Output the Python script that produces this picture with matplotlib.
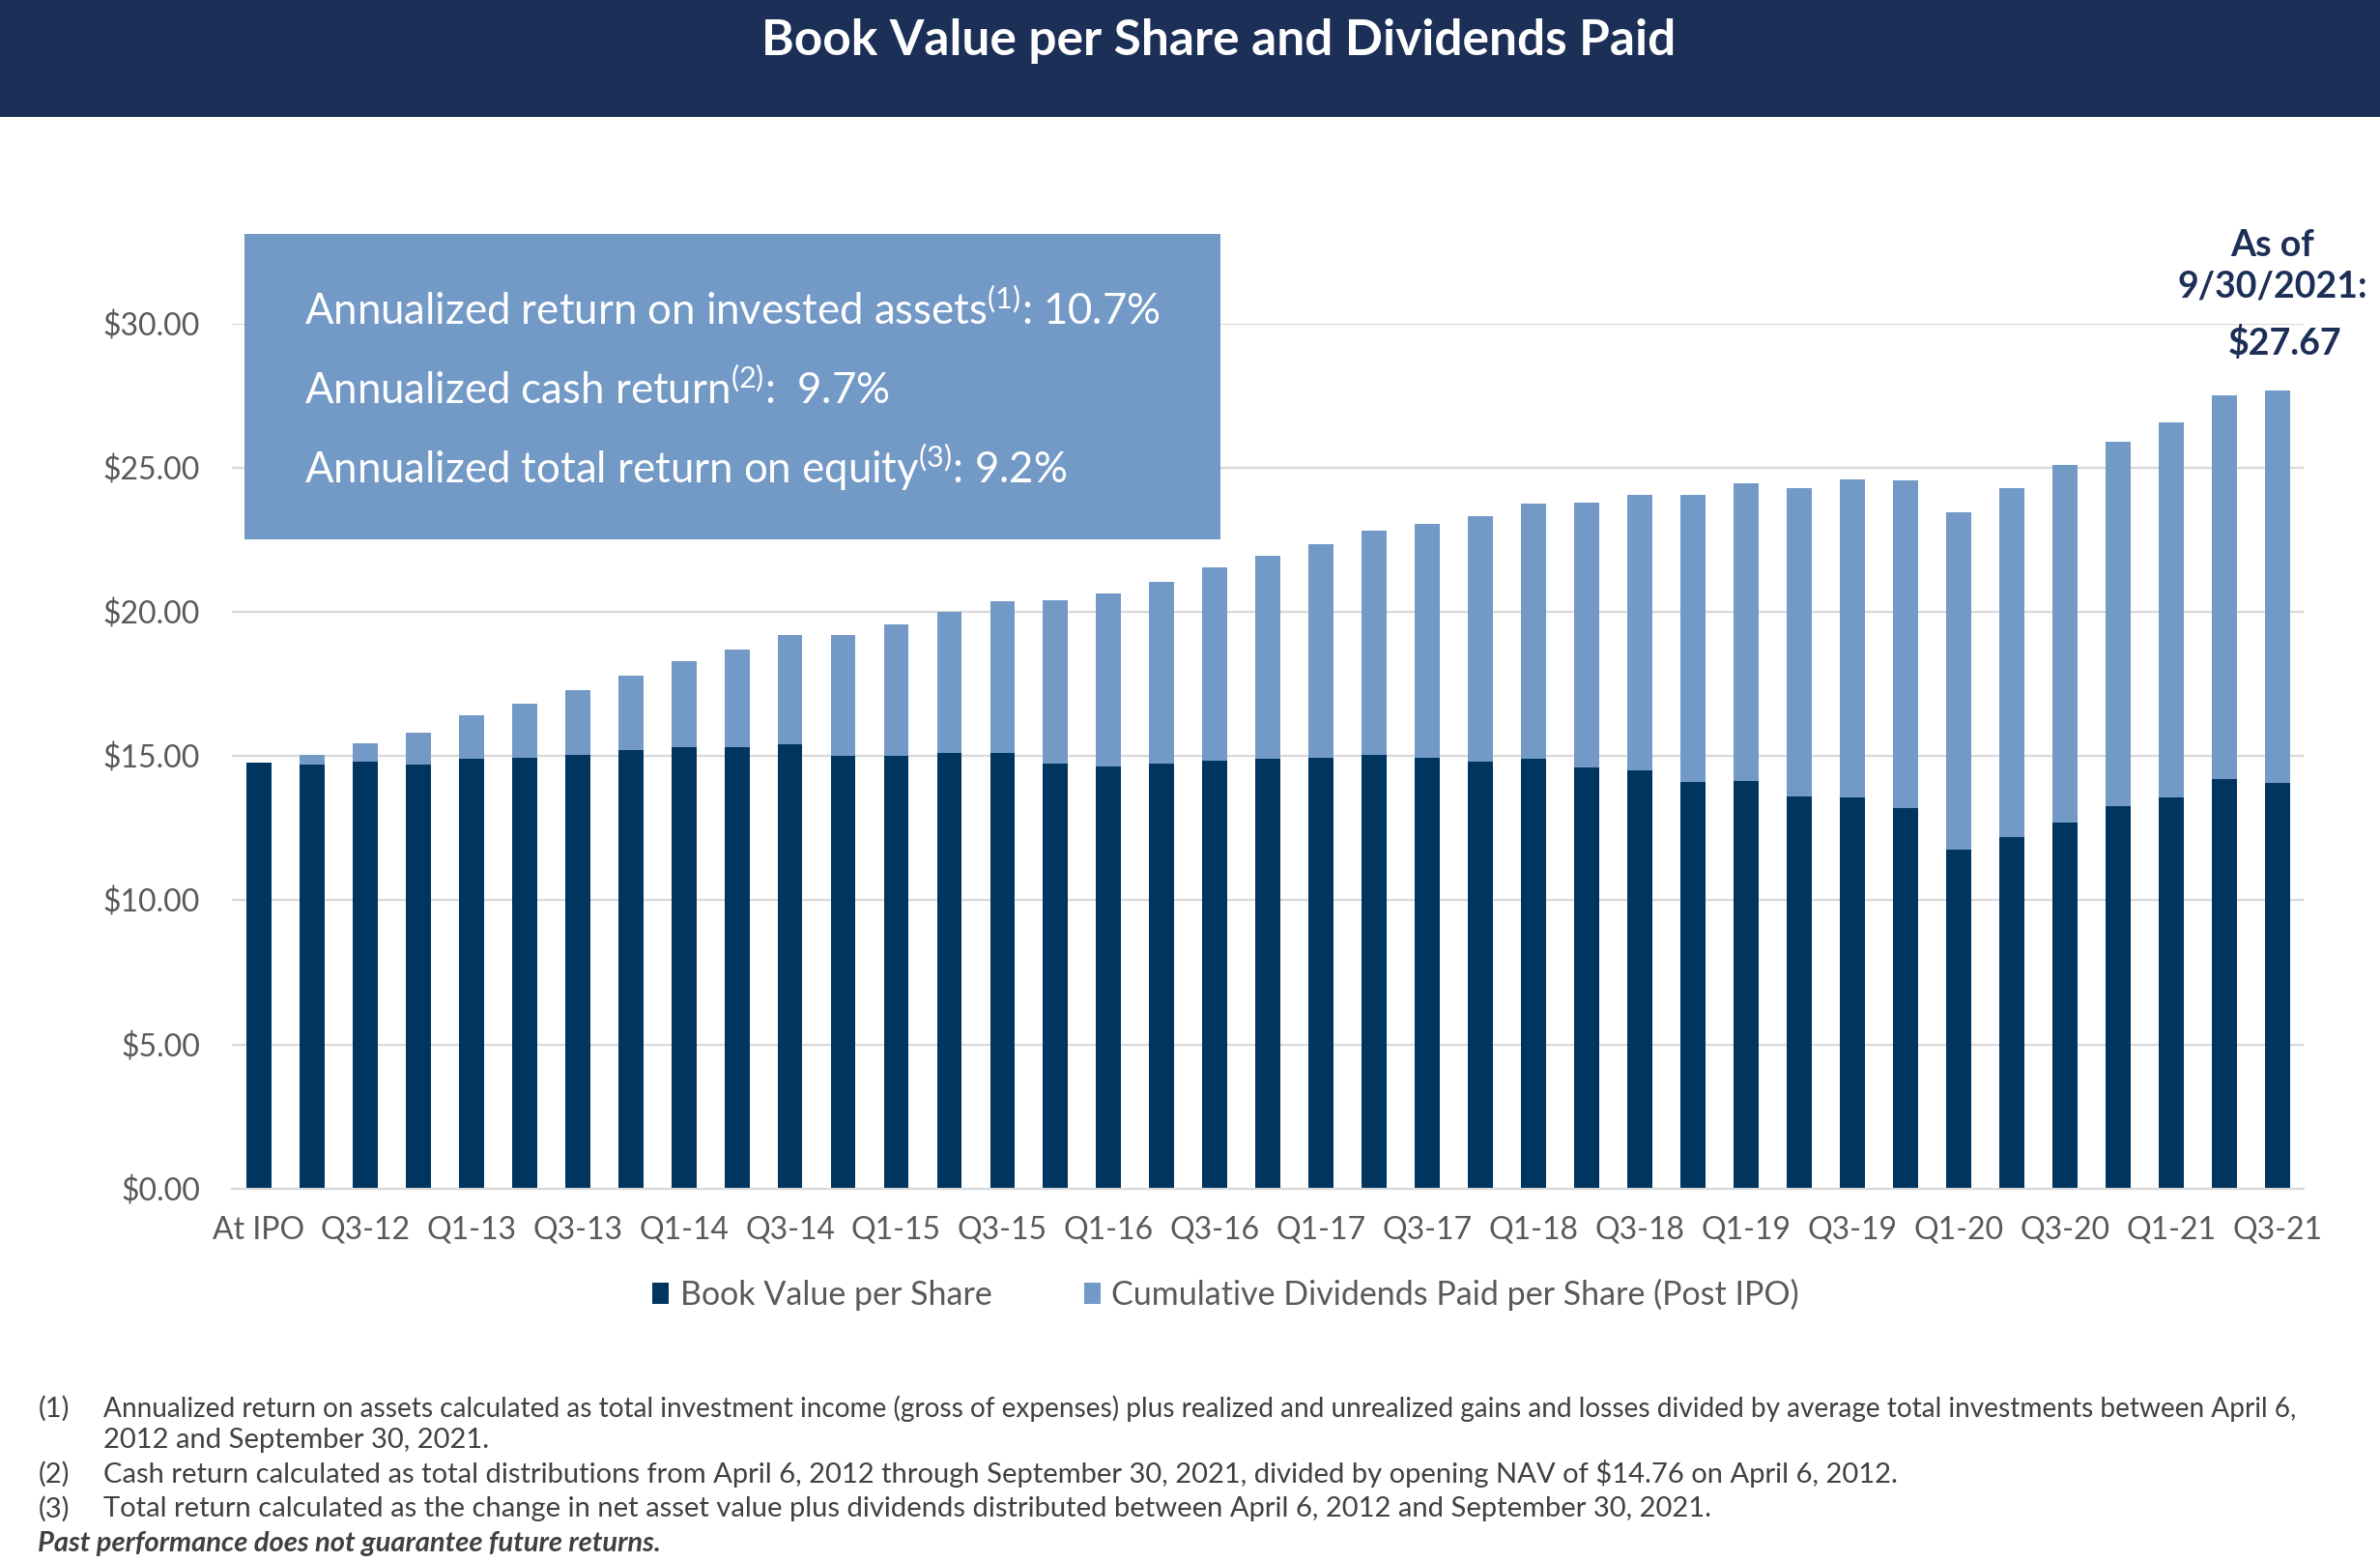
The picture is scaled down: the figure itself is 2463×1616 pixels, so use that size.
import matplotlib
matplotlib.use("Agg")
import matplotlib.pyplot as plt
from matplotlib.patches import Rectangle
import numpy as np

plt.rcParams['font.family'] = ['Lato', 'DejaVu Sans']
plt.rcParams['mathtext.fontset'] = 'custom'
plt.rcParams['mathtext.rm'] = 'Lato'
plt.rcParams['mathtext.it'] = 'Lato:italic'
plt.rcParams['mathtext.bf'] = 'Lato:bold'

# quarters, At IPO then Q2-12 .. Q3-21
quarters = ["At IPO"]
for yr in range(12, 22):
    for q in range(1, 5):
        if yr == 12 and q == 1:
            continue
        if yr == 21 and q == 4:
            continue
        quarters.append("Q%d-%d" % (q, yr))

book_value = [14.76, 14.70, 14.80, 14.70, 14.90, 14.95, 15.05, 15.20, 15.30, 15.30,
              15.40, 15.00, 15.00, 15.10, 15.10, 14.75, 14.65, 14.75, 14.85, 14.90,
              14.95, 15.05, 14.95, 14.80, 14.90, 14.60, 14.50, 14.10, 14.15, 13.60,
              13.55, 13.20, 11.75, 12.20, 12.70, 13.25, 13.55, 14.20, 14.08]
total_value = [14.76, 15.05, 15.45, 15.80, 16.40, 16.80, 17.30, 17.80, 18.30, 18.70,
               19.20, 19.20, 19.55, 20.00, 20.35, 20.40, 20.65, 21.05, 21.55, 21.95,
               22.35, 22.80, 23.05, 23.30, 23.75, 23.80, 24.05, 24.05, 24.45, 24.30,
               24.60, 24.55, 23.45, 24.30, 25.10, 25.90, 26.55, 27.50, 27.67]
dividends = [t - b for t, b in zip(total_value, book_value)]

dark = "#00355f"
light = "#7399c6"
navy = "#1c2f57"
gray = "#595959"

fig = plt.figure(figsize=(24.63, 16.16), dpi=100)

# title banner
fig.add_artist(Rectangle((0, 1 - 121 / 1616), 1, 121 / 1616, transform=fig.transFigure,
                         facecolor=navy, edgecolor="none", zorder=1))
fig.text(0.512, 0.974, "Book Value per Share and Dividends Paid", color="white",
         fontsize=37, fontweight="bold", ha="center", va="center", zorder=3)

ax = fig.add_axes([0.0976, 0.239, 0.8704, 0.554])
x = np.arange(len(quarters))
ax.bar(x, book_value, width=0.47, color=dark, label="Book Value per Share", zorder=2)
ax.bar(x, dividends, width=0.47, bottom=book_value, color=light,
       label="Cumulative Dividends Paid per Share (Post IPO)", zorder=2)

ax.set_xlim(-0.5, len(quarters) - 0.5)
ax.set_ylim(0, 30)
ax.set_yticks(np.arange(0, 31, 5))
ax.set_yticklabels(["$%.2f" % v for v in np.arange(0, 31, 5)])
ax.set_xticks(x[::2])
ax.set_xticklabels(quarters[::2])
ax.tick_params(axis="both", length=0, labelsize=23, labelcolor=gray)
ax.tick_params(axis="y", pad=24)
ax.tick_params(axis="x", pad=20)
ax.grid(axis="y", color="#d9d9d9", lw=1.6, zorder=0)
for s in ["top", "right", "left"]:
    ax.spines[s].set_visible(False)
ax.spines["bottom"].set_color("#d9d9d9")
ax.spines["bottom"].set_linewidth(1.6)

# stats box
fig.add_artist(Rectangle((0.1027, 0.655), 0.410, 0.1953, transform=fig.transFigure,
                         facecolor=light, edgecolor="none", zorder=1))
box_lines = [r"Annualized return on invested assets$^{(1)}$: 10.7%",
             r"Annualized cash return$^{(2)}$:  9.7%",
             r"Annualized total return on equity$^{(3)}$: 9.2%"]
for txt, yy in zip(box_lines, [0.8008, 0.7502, 0.7007]):
    fig.text(0.128, yy, txt, color="white", fontsize=31.5, ha="left", va="center", zorder=3)

# as-of annotation
fig.text(0.9547, 0.8426, "As of", color=navy, fontsize=27, fontweight="bold",
         ha="center", va="center")
fig.text(0.9547, 0.8163, "9/30/2021:", color=navy, fontsize=27, fontweight="bold",
         ha="center", va="center")
fig.text(0.96, 0.7804, "$27.67", color=navy, fontsize=27, fontweight="bold",
         ha="center", va="center")

fig.legend(loc="center", bbox_to_anchor=(0.515, 0.171), ncol=2, frameon=False,
           fontsize=24.5, labelcolor=gray, handlelength=0.5, handleheight=0.6,
           handletextpad=0.33, columnspacing=2.8)

# footnotes
notes = [("(1)", "Annualized return on assets calculated as total investment income (gross of expenses) plus realized and unrealized gains and losses divided by average total investments between April 6,", 0.0982, 20.2),
         ("", "2012 and September 30, 2021.", 0.0777, 21),
         ("(2)", "Cash return calculated as total distributions from April 6, 2012 through September 30, 2021, divided by opening NAV of $14.76 on April 6, 2012.", 0.0564, 21),
         ("(3)", "Total return calculated as the change in net asset value plus dividends distributed between April 6, 2012 and September 30, 2021.", 0.034, 21)]
for num, txt, yy, fs in notes:
    fig.text(0.016, yy, num, color="#404040", fontsize=21, ha="left", va="center")
    fig.text(0.0434, yy, txt, color="#404040", fontsize=fs, ha="left", va="center")
fig.text(0.016, 0.0117, "Past performance does not guarantee future returns.", color="#404040",
         fontsize=21, fontweight="bold", fontstyle="italic", ha="left", va="center")

fig.savefig("out.png", dpi=100)
